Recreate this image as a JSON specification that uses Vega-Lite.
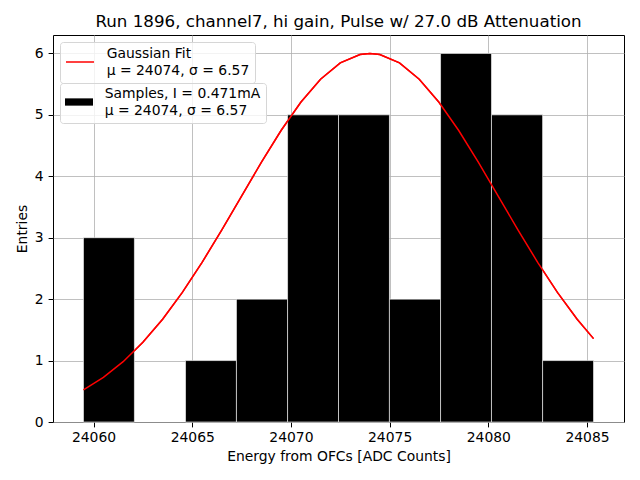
{
  "$schema": "https://vega.github.io/schema/vega-lite/v6.json",
  "autosize": "none",
  "width": 571,
  "height": 387,
  "padding": {"left": 53, "top": 35, "right": 16, "bottom": 58},
  "background": "white",
  "title": {
    "text": "Run 1896, channel7, hi gain, Pulse w/ 27.0 dB Attenuation",
    "font": "DejaVu Sans", "fontSize": 16.7, "fontWeight": "normal", "color": "black",
    "anchor": "middle", "offset": 8, "baseline": "alphabetic", "frame": "group", "dy": 17
  },
  "config": {
    "view": {"stroke": "black", "strokeWidth": 1},
    "style": {"guide-label": {"lineHeight": 16.7}},
    "axis": {
      "zindex": 1,
      "domain": false,
      "grid": true, "gridColor": "#b0b0b0", "gridWidth": 0.8,
      "tickColor": "black", "tickSize": 4.9, "tickWidth": 1,
      "labelFont": "DejaVu Sans", "labelFontSize": 13.9, "labelColor": "black",
      "titleFont": "DejaVu Sans", "titleFontSize": 13.9, "titleFontWeight": "normal", "titleColor": "black"
    },
    "legend": {
      "orient": "top-left",
      "offset": 7,
      "layout": {"top-left": {"direction": "vertical", "margin": 0}, "direction": "vertical", "margin": 0},
      "fillColor": "rgba(255,255,255,0.8)",
      "strokeColor": "#d6d6d6",
      "strokeWidth": 1,
      "cornerRadius": 3,
      "padding": 5,
      "labelFont": "DejaVu Sans",
      "labelFontSize": 13.9,
      "labelColor": "black",
      "labelLimit": 400,
      "labelOffset": 11.7,
      "labelBaseline": "line-bottom",
      "symbolSize": 784,
      "symbolOpacity": 1
    }
  },
  "datasets": {
    "hist": [
      {"x0": 24059.49, "x1": 24062.07, "count": 3, "series": "Samples, I = 0.471mA|μ = 24074, σ = 6.57"},
      {"x0": 24064.66, "x1": 24067.24, "count": 1, "series": "Samples, I = 0.471mA|μ = 24074, σ = 6.57"},
      {"x0": 24067.24, "x1": 24069.83, "count": 2, "series": "Samples, I = 0.471mA|μ = 24074, σ = 6.57"},
      {"x0": 24069.83, "x1": 24072.41, "count": 5, "series": "Samples, I = 0.471mA|μ = 24074, σ = 6.57"},
      {"x0": 24072.41, "x1": 24074.99, "count": 5, "series": "Samples, I = 0.471mA|μ = 24074, σ = 6.57"},
      {"x0": 24074.99, "x1": 24077.58, "count": 2, "series": "Samples, I = 0.471mA|μ = 24074, σ = 6.57"},
      {"x0": 24077.58, "x1": 24080.16, "count": 6, "series": "Samples, I = 0.471mA|μ = 24074, σ = 6.57"},
      {"x0": 24080.16, "x1": 24082.75, "count": 5, "series": "Samples, I = 0.471mA|μ = 24074, σ = 6.57"},
      {"x0": 24082.75, "x1": 24085.33, "count": 1, "series": "Samples, I = 0.471mA|μ = 24074, σ = 6.57"}
    ],
    "fit": [
      {"x": 24059.49, "y": 0.524, "series": "Gaussian Fit|μ = 24074, σ = 6.57"},
      {"x": 24060.5, "y": 0.727, "series": "Gaussian Fit|μ = 24074, σ = 6.57"},
      {"x": 24061.5, "y": 0.982, "series": "Gaussian Fit|μ = 24074, σ = 6.57"},
      {"x": 24062.5, "y": 1.297, "series": "Gaussian Fit|μ = 24074, σ = 6.57"},
      {"x": 24063.5, "y": 1.673, "series": "Gaussian Fit|μ = 24074, σ = 6.57"},
      {"x": 24064.5, "y": 2.110, "series": "Gaussian Fit|μ = 24074, σ = 6.57"},
      {"x": 24065.5, "y": 2.599, "series": "Gaussian Fit|μ = 24074, σ = 6.57"},
      {"x": 24066.5, "y": 3.127, "series": "Gaussian Fit|μ = 24074, σ = 6.57"},
      {"x": 24067.5, "y": 3.678, "series": "Gaussian Fit|μ = 24074, σ = 6.57"},
      {"x": 24068.5, "y": 4.226, "series": "Gaussian Fit|μ = 24074, σ = 6.57"},
      {"x": 24069.5, "y": 4.745, "series": "Gaussian Fit|μ = 24074, σ = 6.57"},
      {"x": 24070.5, "y": 5.206, "series": "Gaussian Fit|μ = 24074, σ = 6.57"},
      {"x": 24071.5, "y": 5.581, "series": "Gaussian Fit|μ = 24074, σ = 6.57"},
      {"x": 24072.5, "y": 5.846, "series": "Gaussian Fit|μ = 24074, σ = 6.57"},
      {"x": 24073.5, "y": 5.983, "series": "Gaussian Fit|μ = 24074, σ = 6.57"},
      {"x": 24074.0, "y": 6.000, "series": "Gaussian Fit|μ = 24074, σ = 6.57"},
      {"x": 24074.5, "y": 5.983, "series": "Gaussian Fit|μ = 24074, σ = 6.57"},
      {"x": 24075.5, "y": 5.846, "series": "Gaussian Fit|μ = 24074, σ = 6.57"},
      {"x": 24076.5, "y": 5.581, "series": "Gaussian Fit|μ = 24074, σ = 6.57"},
      {"x": 24077.5, "y": 5.206, "series": "Gaussian Fit|μ = 24074, σ = 6.57"},
      {"x": 24078.5, "y": 4.745, "series": "Gaussian Fit|μ = 24074, σ = 6.57"},
      {"x": 24079.5, "y": 4.226, "series": "Gaussian Fit|μ = 24074, σ = 6.57"},
      {"x": 24080.5, "y": 3.678, "series": "Gaussian Fit|μ = 24074, σ = 6.57"},
      {"x": 24081.5, "y": 3.127, "series": "Gaussian Fit|μ = 24074, σ = 6.57"},
      {"x": 24082.5, "y": 2.599, "series": "Gaussian Fit|μ = 24074, σ = 6.57"},
      {"x": 24083.5, "y": 2.110, "series": "Gaussian Fit|μ = 24074, σ = 6.57"},
      {"x": 24084.5, "y": 1.673, "series": "Gaussian Fit|μ = 24074, σ = 6.57"},
      {"x": 24085.33, "y": 1.357, "series": "Gaussian Fit|μ = 24074, σ = 6.57"}
    ]
  },
  "layer": [
    {
      "data": {"name": "fit"},
      "mark": {"type": "line", "strokeWidth": 1.5},
      "encoding": {
        "x": {
          "field": "x", "type": "quantitative",
          "scale": {"domain": [24058.2, 24086.62], "nice": false, "zero": false},
          "axis": {"values": [24060, 24065, 24070, 24075, 24080, 24085], "format": "d", "title": "Energy from OFCs [ADC Counts]", "labelPadding": 3.8, "titlePadding": 5}
        },
        "y": {
          "field": "y", "type": "quantitative",
          "scale": {"domain": [0, 6.3], "nice": false},
          "axis": {"values": [0, 1, 2, 3, 4, 5, 6], "format": "d", "title": "Entries", "labelPadding": 4.9, "titlePadding": 5}
        },
        "color": {
          "field": "series", "type": "nominal",
          "scale": {"domain": ["Gaussian Fit|μ = 24074, σ = 6.57"], "range": ["#ff0000"]},
          "legend": {
            "title": null,
            "symbolType": "stroke",
            "symbolStrokeWidth": 1.5,
            "labelExpr": "split(datum.label, '|')"
          }
        }
      }
    },
    {
      "data": {"name": "hist"},
      "mark": {"type": "bar", "orient": "vertical", "stroke": "#ffffff", "strokeOpacity": 0.6, "strokeWidth": 1},
      "encoding": {
        "x": {"field": "x0", "type": "quantitative"},
        "x2": {"field": "x1"},
        "y": {"field": "count", "type": "quantitative"},
        "y2": {"datum": 0},
        "fill": {
          "field": "series", "type": "nominal",
          "scale": {"domain": ["Samples, I = 0.471mA|μ = 24074, σ = 6.57"], "range": ["#000000"]},
          "legend": {
            "title": null,
            "symbolType": "M-1,-0.26H1V0.26H-1Z",
            "symbolStrokeWidth": 0,
            "symbolFillColor": "#000000",
            "labelExpr": "split(datum.label, '|')"
          }
        }
      }
    },
    {
      "data": {"name": "fit"},
      "mark": {"type": "line", "strokeWidth": 1.5},
      "encoding": {
        "x": {"field": "x", "type": "quantitative"},
        "y": {"field": "y", "type": "quantitative"},
        "color": {"field": "series", "type": "nominal", "legend": null}
      }
    }
  ]
}
